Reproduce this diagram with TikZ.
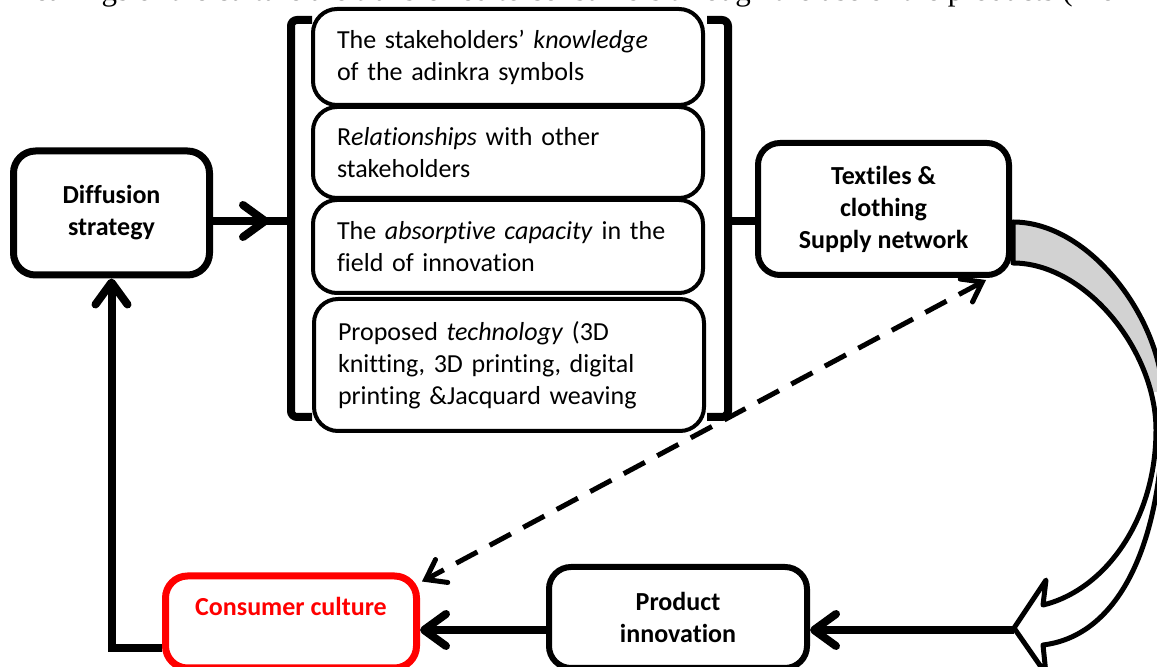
\documentclass[tikz,border=0pt]{standalone}
\usepackage{fontspec}
\setmainfont{Carlito}[Ligatures=NoCommon]
\newfontfamily\introfont{Liberation Serif}
\usetikzlibrary{arrows.meta}

\newcommand{\bendpath}{(1013,222) .. controls (1090,222) and (1163,320) .. (1163,400)
  .. controls (1165,530) and (1125,635) .. (1043,645) -- (1046,674) -- (1014,628)
  -- (1046,580) -- (1043,605) .. controls (1105,590) and (1156,520) .. (1156,430)
  .. controls (1156,350) and (1085,263) .. (1013,263) -- cycle}

\begin{document}
\begin{tikzpicture}[x=0.5pt,y=-0.5pt,
  box/.style={draw, line width=3pt, rounded corners=11pt, fill=white, align=center,
    font=\bfseries\fontsize{13}{16}\selectfont},
  factor/.style={draw, line width=2pt, rounded corners=12pt, fill=white, text width=171pt,
    inner xsep=12pt, align=left, font=\fontsize{13}{16}\selectfont},
  conn/.style={line width=4pt},
  head/.style={-{Straight Barb[length=11pt,width=16pt,line cap=round,line join=round]}},
  dashhead/.style={{Straight Barb[length=9pt,width=13pt,line cap=round]}-{Straight Barb[length=9pt,width=13pt,line cap=round]}}]
  \clip (0,0) rectangle (1157,667);

  \node[anchor=base west, inner sep=0, font=\introfont\fontsize{15.5}{18}\selectfont] (intro) at (10,1)
    {meanings of the culture are transferred to consumers through the use of the products (Mo};

  % brackets round the four factors
  \draw[line width=4pt, rounded corners=3pt] (312,20) -- (291,20) -- (291,417) -- (312,417);
  \draw[line width=4pt, rounded corners=3pt] (707,20) -- (728,20) -- (728,417) -- (707,417);
  \coordinate (brkL) at (291,221);
  \coordinate (brkR) at (728,221);

  % curved block arrow
  \fill[white] \bendpath;
  \begin{scope}
    \clip (1000,200) rectangle (1200,392);
    \fill[gray!35] \bendpath;
  \end{scope}
  \draw[line width=2.5pt, line join=round] \bendpath;
  \coordinate (btip) at (1014,630);

  \node[factor, minimum height=48pt] (know) at (508,57) {The stakeholders’ \textit{knowledge}\\of the adinkra symbols};
  \node[factor, minimum height=45.5pt] (rel) at (508,152.5) {R\textit{elationships} with other\\stakeholders};
  \node[factor, minimum height=46.5pt] (absorb) at (508,246.5) {The \textit{absorptive capacity} in the\\field of innovation};
  \node[factor, minimum height=66pt] (techn) at (509,365) {Proposed \textit{technology} (3D\\knitting, 3D printing, digital\\printing \&Jacquard weaving};

  \node[box, line width=3.5pt, minimum width=98pt, minimum height=62pt] (diff) at (111.5,213) {Diffusion\\strategy};
  \node[box, minimum width=125.5pt, minimum height=66pt] (tex) at (883.5,209) {Textiles \&\\clothing\\Supply network};
  \node[box, minimum width=129pt, minimum height=50.5pt] (prod) at (678,617.5) {Product\\innovation};
  \node[box, draw=red, text=red, line width=3.5pt, minimum width=125.5pt, minimum height=46pt] (cons) at (291,622) {Consumer culture\\~};

  \draw[conn] (diff.east |- brkL) -- (brkL);
  \draw[conn, head] (diff.east |- brkL) -- ([xshift=-11pt]brkL);
  \draw[conn] (brkR) -- (tex.west |- brkR);
  \draw[conn, head] (btip) -- (prod.east |- btip);
  \draw[conn, head] (prod.west |- btip) -- (cons.east |- btip);
  \draw[conn, head] ([yshift=-13pt]cons.west) -| (diff.south);
  \draw[line width=2.5pt, dash pattern=on 12pt off 7pt, dashhead] ([xshift=-13pt,yshift=-1pt]tex.south east) -- ([xshift=1pt,yshift=-4.5pt]cons.north east);
\end{tikzpicture}
\end{document}
